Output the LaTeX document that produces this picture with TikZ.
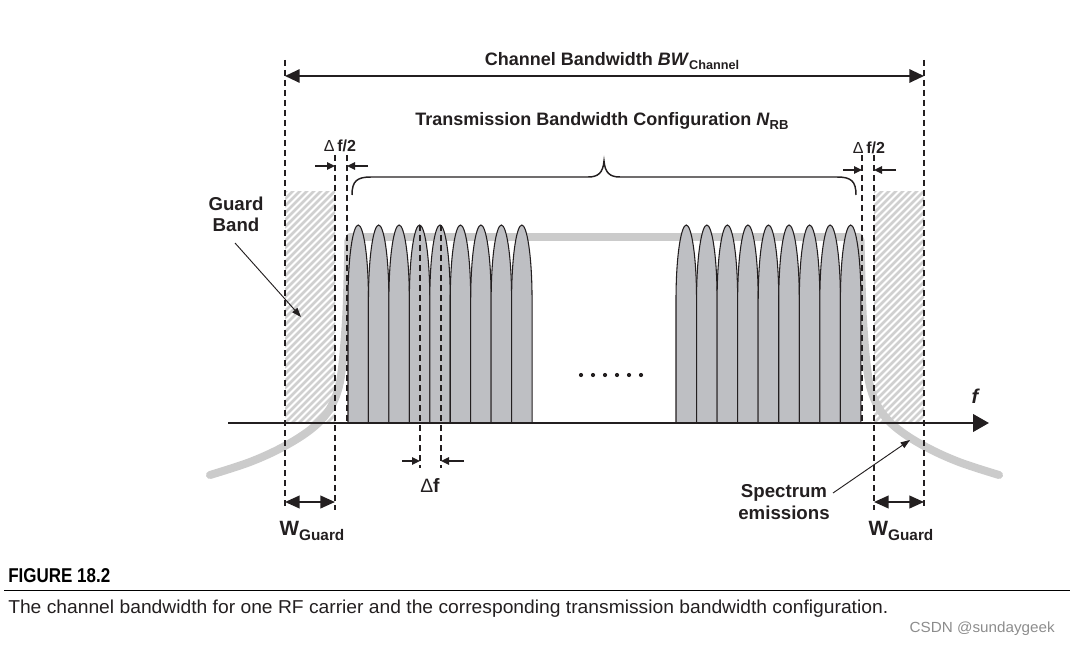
\documentclass[tikz,border=0pt]{standalone}
\usepackage{fontspec}
\setmainfont{Liberation Sans}
\usetikzlibrary{arrows.meta}
\definecolor{lobefill}{RGB}{190,191,195}
\definecolor{emis}{RGB}{203,203,203}
\definecolor{hatchc}{RGB}{208,208,208}
\definecolor{ink}{RGB}{35,31,32}
\begin{document}
\begin{tikzpicture}[x=0.75pt,y=-0.75pt,
  dashline/.style={ink,dash pattern=on 4.5pt off 3pt,line width=0.9pt},
  lobestyle/.style={fill=lobefill,draw=ink,line width=0.8pt},
  emisline/.style={emis,line width=6pt,line cap=round,line join=round},
  hatchline/.style={hatchc,line width=1.9pt},
  title/.style={font=\fontsize{13.5}{15}\selectfont\bfseries,inner sep=0pt,anchor=base,text=ink},
  biglbl/.style={font=\fontsize{14}{16}\selectfont\bfseries,inner sep=0pt,anchor=base,text=ink,align=center},
  small/.style={font=\fontsize{12}{14}\selectfont\bfseries,inner sep=0pt,anchor=base,text=ink},
  bigarrow/.style={ink,line width=1.5pt,{Triangle[length=11pt,width=10pt]}-{Triangle[length=11pt,width=10pt]}},
  warrow/.style={ink,line width=1.5pt,{Triangle[length=11pt,width=9.5pt]}-{Triangle[length=11pt,width=9.5pt]}},
  tinyarrow/.style={ink,line width=1.1pt,-{Triangle[length=6pt,width=5.5pt]}},
  thinarrow/.style={ink,line width=0.7pt,-{Triangle[length=7pt,width=5pt]}}
]
\useasboundingbox (0,0) rectangle (1070,645);

% guard band hatching
\begin{scope}
  \clip (285,192) rectangle (335,423);
  \foreach \k in {-37,...,9} \draw[hatchline] (285+\k*7,430) -- ++(260,-260);
\end{scope}
\begin{scope}
  \clip (874,192) rectangle (924,423);
  \foreach \k in {-37,...,9} \draw[hatchline] (874+\k*7,430) -- ++(260,-260);
\end{scope}

% spectrum emission envelope
\draw[emisline] plot[smooth,tension=0.6] coordinates {(210,475) (250,462) (283,447) (310,430) (327,413) (337,393) (342,368) (346,320) (347.5,280) (348.5,240)};
\draw[emisline] (350,237) -- (859,237);
\draw[emisline] plot[smooth,tension=0.6] coordinates {(999,475) (959,462) (926,447) (899,430) (882,413) (872,393) (867,368) (863,320) (861.5,280) (860.5,240)};

% subcarrier lobes
\foreach \s/\w in {348/20.45,676/20.55}{
  \foreach \i in {0,...,8}{
    \pgfmathsetmacro\xl{\s+\i*\w}
    \pgfmathsetmacro\xr{\xl+\w}
    \pgfmathsetmacro\xc{\xl+\w/2}
    \draw[lobestyle] (\xl,423) -- (\xl,300) .. controls (\xl,255) and (\xc-5,225) .. (\xc,225)
      .. controls (\xc+5,225) and (\xr,255) .. (\xr,300) -- (\xr,423);
  }
}

% dots
\foreach \x in {581,593,605,617,629,641} \fill[ink] (\x,375) circle[radius=2.1];

% frequency axis
\coordinate (ax0) at (228,423);
\coordinate (ax1) at (989,423);
\draw[ink,line width=2.2pt,-{Triangle[length=12pt,width=13pt]}] (ax0) -- (ax1);
\node[font=\fontsize{15}{17}\selectfont\bfseries\itshape,inner sep=0pt,anchor=base,text=ink] (flbl) at (975,403) {f};

% dashed lines
\draw[dashline] (285,60) -- (285,510);
\draw[dashline] (335,155) -- (335,510);
\draw[dashline] (347,155) -- (347,423);
\draw[dashline] (862,155) -- (862,423);
\draw[dashline] (874,155) -- (874,510);
\draw[dashline] (924,60) -- (924,510);
\draw[dashline] (420,225) -- (420,468);
\draw[dashline] (441,225) -- (441,468);

% channel bandwidth
\coordinate (cbL) at (285,76);
\coordinate (cbR) at (924,76);
\draw[bigarrow] (cbL) -- (cbR);
\node[title] (cbw) at (612,66) {Channel Bandwidth \textit{BW}\raisebox{-2.4pt}{\fontsize{9.5}{10}\selectfont Channel}};

% transmission bandwidth configuration
\node[title] (tbc) at (602,126) {Transmission Bandwidth Configuration \textit{N}\raisebox{-2.4pt}{\fontsize{9.8}{10}\selectfont RB}};
\draw[ink,line width=1.1pt] (352,195) .. controls (352,181) and (357,177) .. (371,177) -- (588,177)
  .. controls (598,177) and (603,173) .. (604,161) .. controls (605,173) and (610,177) .. (620,177)
  -- (837,177) .. controls (851,177) and (856,181) .. (856,195);

% delta f/2 left
\node[small] (dfl) at (340,152) {{\mdseries\char"0394}\,f/2};
\coordinate (dfla) at (315,166); \coordinate (dflb) at (335,166);
\coordinate (dflc) at (368,166); \coordinate (dfld) at (347,166);
\draw[tinyarrow] (dfla) -- (dflb);
\draw[tinyarrow] (dflc) -- (dfld);
% delta f/2 right
\node[small] (dfr) at (869,154) {{\mdseries\char"0394}\,f/2};
\coordinate (dfra) at (843,170); \coordinate (dfrb) at (862,170);
\coordinate (dfrc) at (896,170); \coordinate (dfrd) at (874,170);
\draw[tinyarrow] (dfra) -- (dfrb);
\draw[tinyarrow] (dfrc) -- (dfrd);

% delta f
\node[font=\fontsize{14.5}{16}\selectfont\bfseries,inner sep=0pt,anchor=base,text=ink] (df) at (430,492) {{\mdseries\char"0394}f};
\coordinate (dfa) at (402,461); \coordinate (dfb) at (420,461);
\coordinate (dfc) at (464,461); \coordinate (dfd) at (441,461);
\draw[tinyarrow] (dfa) -- (dfb);
\draw[tinyarrow] (dfc) -- (dfd);

% guard band label
\node[biglbl] (gb1) at (236,211) {Guard};
\node[biglbl] (gb2) at (236,232) {Band};
\coordinate (gba) at (235,243); \coordinate (gbb) at (301,317);
\draw[thinarrow] (gba) -- (gbb);

% spectrum emissions label
\node[biglbl] (se1) at (784,497) {Spectrum};
\node[biglbl] (se2) at (784,519) {emissions};
\coordinate (sea) at (833,493); \coordinate (seb) at (910,440);
\draw[thinarrow] (sea) -- (seb);

% W guard
\coordinate (wl1) at (285,502); \coordinate (wl2) at (335,502);
\draw[warrow] (wl1) -- (wl2);
\coordinate (wr1) at (874,502); \coordinate (wr2) at (924,502);
\draw[warrow] (wr1) -- (wr2);
\node[font=\fontsize{15.5}{17}\selectfont\bfseries,inner sep=0pt,anchor=base,text=ink] (wgl) at (312,535) {W\raisebox{-4pt}{\fontsize{11.5}{12}\selectfont Guard}};
\node[font=\fontsize{15.5}{17}\selectfont\bfseries,inner sep=0pt,anchor=base,text=ink] (wgr) at (901,535) {W\raisebox{-4pt}{\fontsize{11.5}{12}\selectfont Guard}};

% caption
\node[anchor=base west,inner sep=0pt,text=black] (fig) at (8,582) {\resizebox{76.5pt}{\height}{\fontsize{15}{17}\selectfont\bfseries FIGURE 18.2}};
\coordinate (ruleL) at (4,590.5); \coordinate (ruleR) at (1070,590.5);
\draw[black,line width=1.4pt] (ruleL) -- (ruleR);
\node[anchor=base west,inner sep=0pt,text=ink] (cap) at (8,613) {\resizebox{660pt}{\height}{\fontsize{14}{16}\selectfont The channel bandwidth for one RF carrier and the corresponding transmission bandwidth configuration.}};
\node[anchor=base east,inner sep=0pt,text=black!45] (wm) at (1055,632) {\resizebox{108.75pt}{\height}{\fontsize{11}{12}\selectfont CSDN @sundaygeek}};
\end{tikzpicture}
\end{document}
